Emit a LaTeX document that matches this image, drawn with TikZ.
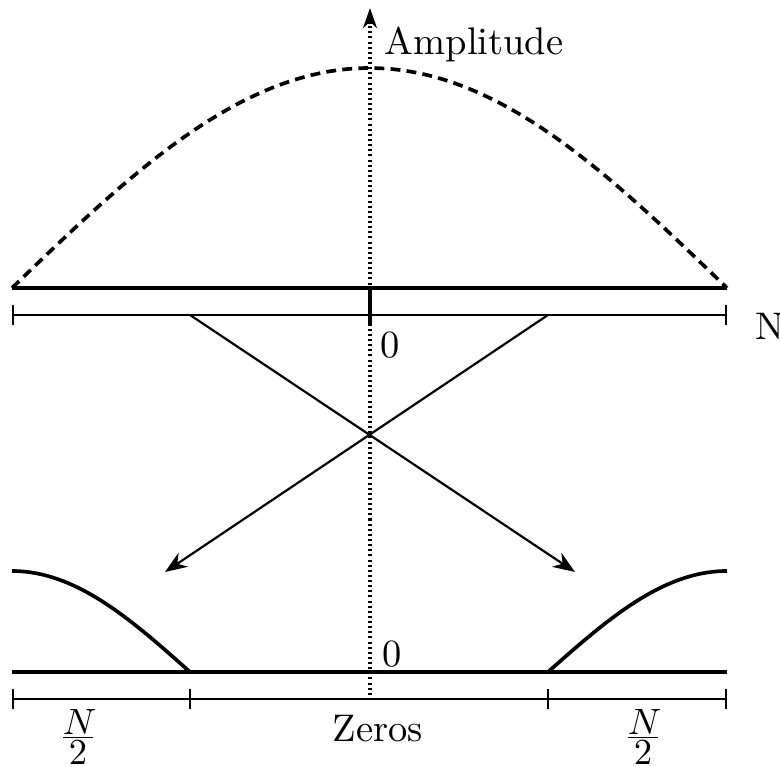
\documentclass[tikz,border=0pt]{standalone}
\usetikzlibrary{arrows.meta}
\newcommand\halfN{\vbox{\hbox to 8.2pt{\hfil$N$\hfil}\kern0.55pt\hrule height0.45pt\kern0.6pt\hbox to 8.2pt{\hfil$2$\hfil}}}
\begin{document}
\begin{tikzpicture}[x=0.273pt,y=-0.273pt,
  thickline/.style={line width=1pt},
  thinline/.style={line width=0.6pt},
  axisline/.style={line width=0.95pt,dash pattern=on 0.55pt off 0.85pt},
  envelope/.style={line width=1pt,dash pattern=on 2.7pt off 1.7pt},
  lbl/.style={inner sep=0pt,font=\fontsize{10.5}{12}\selectfont},
  fraclbl/.style={inner sep=0pt,font=\fontsize{10}{12}\selectfont},
  arr/.style={thinline,-{Stealth[length=6pt,width=4.6pt]}},
  barline/.style={thinline,{Bar[width=5.5pt]}-{Bar[width=5.5pt]}}]
\useasboundingbox (0,0) rectangle (780,767);
% coordinates
\coordinate (TL) at (12,288); \coordinate (TR) at (727,288);
\coordinate (ML) at (12,315); \coordinate (MR) at (727,315);
\coordinate (MA) at (190,315); \coordinate (MB) at (548,315);
\coordinate (EA) at (575,572); \coordinate (EB) at (165,572);
\coordinate (BL) at (12,672); \coordinate (BR) at (727,672);
\coordinate (BA) at (190,672); \coordinate (BB) at (548,672);
\coordinate (DL) at (12,699); \coordinate (DR) at (727,699);
\coordinate (DA) at (190,699); \coordinate (DB) at (548,699);
\coordinate (axB) at (370,700); \coordinate (axT) at (370,8);
\coordinate (tk1) at (370,288); \coordinate (tk2) at (370,325);
% axis
\draw[axisline] (axB) -- (370,22);
\draw[line width=0.95pt,-{Stealth[length=5.5pt,width=3.8pt]}] (370,24) -- (axT);
\node[lbl,anchor=base west] (amp) at (384,55) {Amplitude};
% envelope
\draw[envelope] plot[domain=0:180,samples=80] ({12+3.97222*\x},{288-220*sin(\x)});
% top lines
\draw[thickline] (TL) -- (TR);
\draw[barline] (ML) -- (MR);
\draw[line width=1pt] (tk1) -- (tk2);
\node[lbl,anchor=base west] (n) at (755,340) {N};
\node[lbl,anchor=base west] (z1) at (380,358) {0};
% crossing arrows
\draw[arr] (MA) -- (EA);
\draw[arr] (MB) -- (EB);
% bottom curves
\draw[thickline] plot[domain=0:90,samples=50] ({12+1.97778*\x},{571+101*(1-cos(\x))});
\draw[thickline] plot[domain=0:90,samples=50] ({727-1.98889*\x},{571+101*(1-cos(\x))});
\draw[thickline] (BL) -- (BR);
\node[lbl,anchor=base west] (z2) at (382,667) {0};
% bottom dimension line
\draw[barline] (DL) -- (DR);
\draw[thinline] (DA) ++(0,-10) -- ++(0,20);
\draw[thinline] (DB) ++(0,-10) -- ++(0,20);
\node[lbl,anchor=base] (zeros) at (378,742) {Zeros};
% N/2 fractions
\node[fraclbl,anchor=north] (h1) at (78,709) {\halfN};
\node[fraclbl,anchor=north] (h2) at (643,709) {\halfN};
\end{tikzpicture}
\end{document}
